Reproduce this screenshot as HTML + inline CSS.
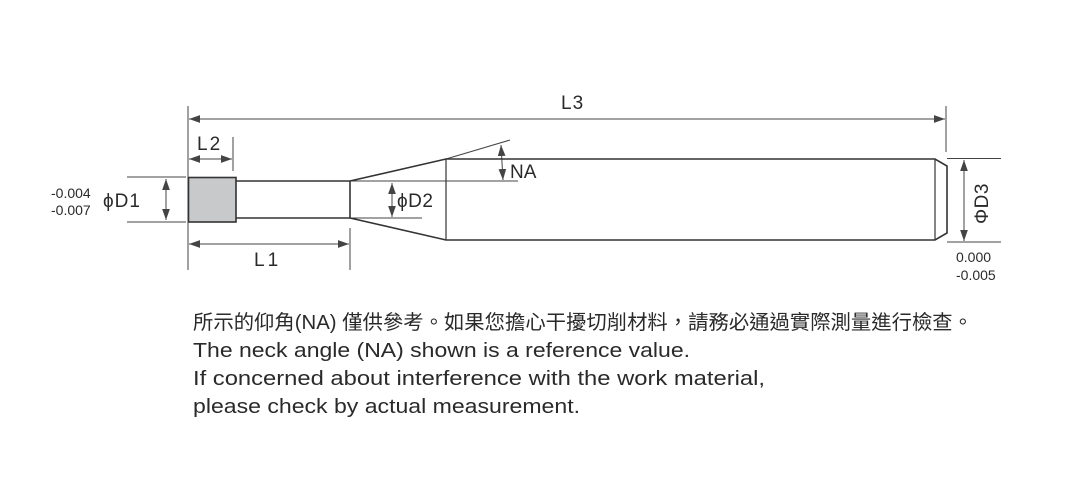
<!DOCTYPE html>
<html><head><meta charset="utf-8"><style>
html,body{margin:0;padding:0;background:#fff;}
svg{display:block;}
text{font-family:"Liberation Sans","Noto Sans CJK TC",sans-serif;fill:#2a2a2a;}
</style></head><body>
<svg width="1069" height="477" viewBox="0 0 1069 477" xmlns="http://www.w3.org/2000/svg">
<defs>
<marker id="a" viewBox="0 0 10 10" refX="10" refY="5" markerWidth="11" markerHeight="11" markerUnits="userSpaceOnUse" orient="auto-start-reverse"><path d="M0,1.5 L10,5 L0,8.5 z" fill="#444"/></marker>
</defs>
<g stroke="#444" stroke-width="1" fill="none">
<line x1="188" y1="106" x2="188" y2="270"/>
<line x1="946" y1="106" x2="946" y2="152"/>
<line x1="233" y1="137" x2="233" y2="171"/>
<line x1="350" y1="228" x2="350" y2="270"/>
<line x1="127" y1="177" x2="186" y2="177"/>
<line x1="127" y1="222" x2="186" y2="222"/>
<line x1="947" y1="158.5" x2="1001" y2="158.5"/>
<line x1="947" y1="242" x2="1001" y2="242"/>
<line x1="350" y1="181" x2="518" y2="181"/>
<line x1="350" y1="218" x2="422" y2="218"/>
<line x1="446" y1="159" x2="510" y2="140"/>
<line x1="189" y1="119" x2="945" y2="119" marker-start="url(#a)" marker-end="url(#a)"/>
<line x1="189" y1="159" x2="232" y2="159" marker-start="url(#a)" marker-end="url(#a)"/>
<line x1="189" y1="244" x2="349" y2="244" marker-start="url(#a)" marker-end="url(#a)"/>
<line x1="166" y1="179" x2="166" y2="220" marker-start="url(#a)" marker-end="url(#a)"/>
<line x1="392" y1="183" x2="392" y2="217" marker-start="url(#a)" marker-end="url(#a)"/>
<line x1="501" y1="145" x2="503" y2="180" marker-start="url(#a)" marker-end="url(#a)"/>
<line x1="964" y1="160" x2="964" y2="241" marker-start="url(#a)" marker-end="url(#a)"/>
</g>
<g stroke="#333" stroke-width="1.6" fill="none">
<rect x="188.5" y="177.5" width="47.5" height="44.5" fill="#c8c9cb"/>
<path d="M236 181 L350 181 L350 218 L236 218"/>
<path d="M350 181 L446 159 L935 159 L947 166 L947 233 L935 240 L446 240 L350 218"/>
<line x1="446" y1="159" x2="446" y2="240" stroke-width="1.2"/>
<line x1="935" y1="159" x2="935" y2="240" stroke-width="1.2"/>
</g>
<g font-size="19">
<text x="561" y="109" letter-spacing="1">L3</text>
<text x="197" y="150" letter-spacing="2">L2</text>
<text x="254" y="266" letter-spacing="3">L1</text>
<text x="103" y="207" letter-spacing="1">ϕD1</text>
<text x="397" y="207" letter-spacing="0.5">ϕD2</text>
<text x="510" y="178">NA</text>
<text transform="translate(988,224) rotate(-90)" letter-spacing="0.5">ΦD3</text>
</g>
<g font-size="14">
<text x="51" y="198">-0.004</text>
<text x="51" y="215">-0.007</text>
<text x="956" y="262">0.000</text>
<text x="956" y="280">-0.005</text>
</g>
<g font-size="20">
<text x="193" y="329" textLength="780" lengthAdjust="spacingAndGlyphs">所示的仰角(NA) 僅供參考。如果您擔心干擾切削材料，請務必通過實際測量進行檢查。</text>
<text x="193" y="357" textLength="497" lengthAdjust="spacingAndGlyphs">The neck angle (NA) shown is a reference value.</text>
<text x="193" y="385" textLength="572" lengthAdjust="spacingAndGlyphs">If concerned about interference with the work material,</text>
<text x="193" y="413" textLength="387" lengthAdjust="spacingAndGlyphs">please check by actual measurement.</text>
</g>
</svg>
</body></html>
